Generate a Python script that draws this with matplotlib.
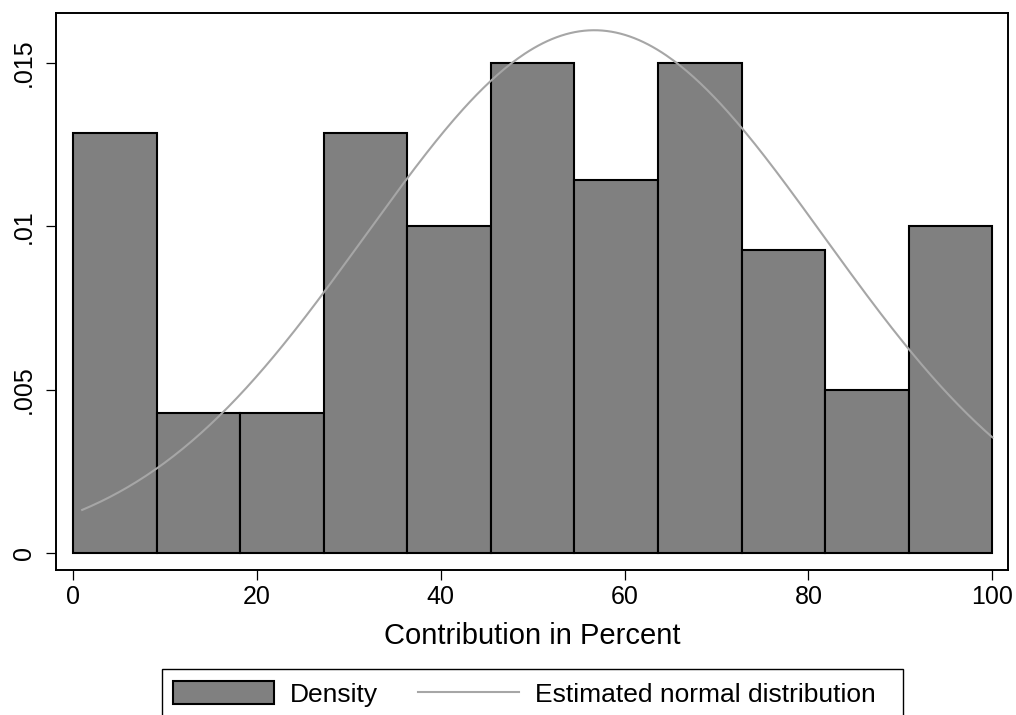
import numpy as np
import matplotlib
matplotlib.use("Agg")
import matplotlib.pyplot as plt
from matplotlib.patches import Rectangle

plt.rcParams['font.family'] = ['Liberation Sans', 'DejaVu Sans']

# ---- data ----
bin_left = [0.0, 9.0909, 18.1818, 27.2727, 36.3636, 45.4545, 54.5454, 63.6364, 72.7273, 81.8182, 90.9091]
bin_width = 9.0909
density = [0.01286, 0.00429, 0.00429, 0.01286, 0.0100, 0.0150, 0.01143, 0.0150, 0.00929, 0.0050, 0.0100]
norm_mean = 56.7
norm_sd = 24.93
data_min, data_max = 1.0, 100.0
x_ticks = [0, 20, 40, 60, 80, 100]
y_ticks = [0, 0.005, 0.01, 0.015]
y_ticklabels = ['0', '.005', '.01', '.015']

W, H = 1016, 715
fig = plt.figure(figsize=(W / 100, H / 100), dpi=100)
ax = fig.add_axes([55.5 / W, 1 - 570 / H, (1008 - 55.5) / W, (570 - 13) / H])

bars = ax.bar(bin_left, density, width=bin_width, align='edge',
              color='#808080', edgecolor='black', linewidth=1.5, zorder=2,
              label='Density')

xs = np.linspace(data_min, data_max, 400)
ys = np.exp(-0.5 * ((xs - norm_mean) / norm_sd) ** 2) / (norm_sd * np.sqrt(2 * np.pi))
line, = ax.plot(xs, ys, color='#a6a6a6', linewidth=1.5, zorder=3,
                label='Estimated normal distribution')

ax.set_xlim(-1.9, 101.7)
ax.set_ylim(-0.00052, 0.01653)
ax.set_xticks(x_ticks)
ax.set_xticklabels([str(t) for t in x_ticks])
ax.set_yticks(y_ticks)
ax.set_yticklabels(y_ticklabels, rotation=90, va='center')

for s in ax.spines.values():
    s.set_linewidth(1.4)
ax.tick_params(axis='both', labelsize=18, length=7, width=0.9, color='black', pad=4)
ax.tick_params(axis='y', pad=7)

ax.set_xlabel('Contribution in Percent', fontsize=21, labelpad=9)

leg = fig.legend(handles=[bars, line], labels=['Density', 'Estimated normal distribution'],
                 loc='center left', bbox_to_anchor=(173 / W, 1 - 694 / H),
                 ncol=2, frameon=False, fontsize=19, borderpad=0, borderaxespad=0,
                 handlelength=3.83, handleheight=0.98, handletextpad=0.6,
                 columnspacing=1.5)

fig.patches.append(Rectangle((162 / W, 1 - 725 / H), (903 - 162) / W, (725 - 669) / H,
                             transform=fig.transFigure, fill=False,
                             edgecolor='black', linewidth=1.0))

fig.savefig('out.png', dpi=100)
